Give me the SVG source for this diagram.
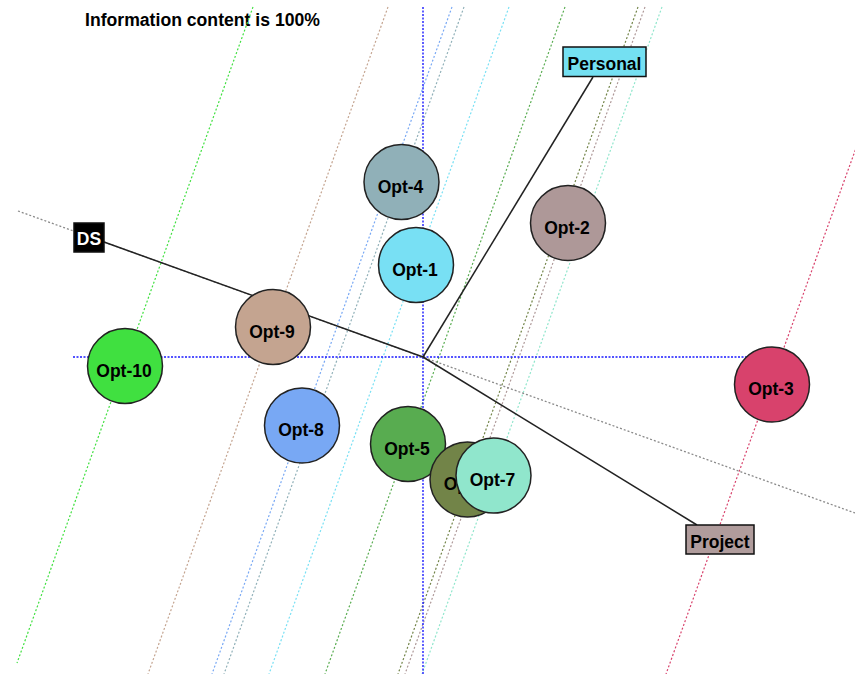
<svg xmlns="http://www.w3.org/2000/svg" width="855" height="674" viewBox="0 0 855 674">
<style>
.pl{fill:none;stroke-width:1.2;stroke-dasharray:2 2}
.ax{fill:none;stroke:#1a1aff;stroke-width:1.4;stroke-dasharray:2 1.5}
.gr{fill:none;stroke:#8a8a8a;stroke-width:1.3;stroke-dasharray:2 2}
.bl{fill:none;stroke:#222;stroke-width:1.5}
.c{stroke:#222;stroke-width:1.5}
.t{font-family:"Liberation Sans",Arial,sans-serif;font-weight:bold;font-size:17.5px;fill:#000;text-anchor:middle}
.title{font-family:"Liberation Sans",Arial,sans-serif;font-weight:bold;font-size:18px;fill:#000}
.box{stroke:#111;stroke-width:1.5}
</style>
<rect width="855" height="674" fill="#fff"/>
<text class="title" x="85" y="26" textLength="235" lengthAdjust="spacingAndGlyphs">Information content is 100%</text>
<g id="connectors">
<line class="pl" stroke="#40e040" x1="253" y1="7" x2="17" y2="663"/>
<line class="pl" stroke="#c4a490" x1="388" y1="7" x2="148" y2="674"/>
<line class="pl" stroke="#78a8f4" x1="452" y1="7" x2="212" y2="674"/>
<line class="pl" stroke="#90b0b8" x1="464" y1="7" x2="224" y2="674"/>
<line class="pl" stroke="#78e0f4" x1="509" y1="7" x2="269" y2="674"/>
<line class="pl" stroke="#58ac50" x1="565" y1="7" x2="325" y2="674"/>
<line class="pl" stroke="#728448" x1="638" y1="7" x2="398" y2="674"/>
<line class="pl" stroke="#ae9898" x1="645" y1="7" x2="405" y2="674"/>
<line class="pl" stroke="#90e6cc" x1="662" y1="7" x2="422" y2="674"/>
<line class="pl" stroke="#d8426c" x1="907" y1="7" x2="666" y2="674"/>
<line class="ax" x1="423" y1="7" x2="423" y2="674"/>
<line class="ax" x1="73" y1="357" x2="760" y2="357"/>
<line class="gr" x1="18" y1="211" x2="855" y2="513"/>
<line class="bl" x1="104" y1="242" x2="423" y2="357"/>
<line class="bl" x1="423" y1="357" x2="593" y2="77"/>
<line class="bl" x1="423" y1="357" x2="697" y2="525"/>
</g>
<g id="opt-1"><circle class="c" cx="416" cy="265" r="37.5" fill="#78e0f4"/><text class="t" x="415" y="275.5">Opt-1</text></g>
<g id="opt-2"><circle class="c" cx="568" cy="223" r="37.5" fill="#ae9898"/><text class="t" x="567" y="233.5">Opt-2</text></g>
<g id="opt-3"><circle class="c" cx="772" cy="384.5" r="37.5" fill="#d8426c"/><text class="t" x="771" y="395">Opt-3</text></g>
<g id="opt-4"><circle class="c" cx="401.5" cy="182" r="37.5" fill="#90b0b8"/><text class="t" x="400.5" y="192.5">Opt-4</text></g>
<g id="opt-5"><circle class="c" cx="408" cy="444" r="37.5" fill="#58ac50"/><text class="t" x="407" y="454.5">Opt-5</text></g>
<g id="opt-6"><circle class="c" cx="467.5" cy="479.5" r="37.5" fill="#728448"/><text class="t" x="466.5" y="490">Opt-6</text></g>
<g id="opt-7"><circle class="c" cx="493.5" cy="475.5" r="37.5" fill="#90e6cc"/><text class="t" x="492.5" y="486">Opt-7</text></g>
<g id="opt-8"><circle class="c" cx="302" cy="425.5" r="37.5" fill="#78a8f4"/><text class="t" x="301" y="436">Opt-8</text></g>
<g id="opt-9"><circle class="c" cx="273" cy="327" r="37.5" fill="#c4a490"/><text class="t" x="272" y="337.5">Opt-9</text></g>
<g id="opt-10"><circle class="c" cx="125" cy="366" r="37.5" fill="#40e040"/><text class="t" x="124" y="376.5">Opt-10</text></g>
<g id="ds"><rect class="box" x="74" y="223" width="30" height="29" fill="#000"/><text class="t" x="89" y="245" style="fill:#fff">DS</text></g>
<g id="personal"><rect class="box" x="563" y="47" width="83" height="29.5" fill="#74e0f2"/><text class="t" x="604.5" y="69.5">Personal</text></g>
<g id="project"><rect class="box" x="686" y="525" width="68" height="29" fill="#b09c9c"/><text class="t" x="720" y="547.5">Project</text></g>
</svg>
